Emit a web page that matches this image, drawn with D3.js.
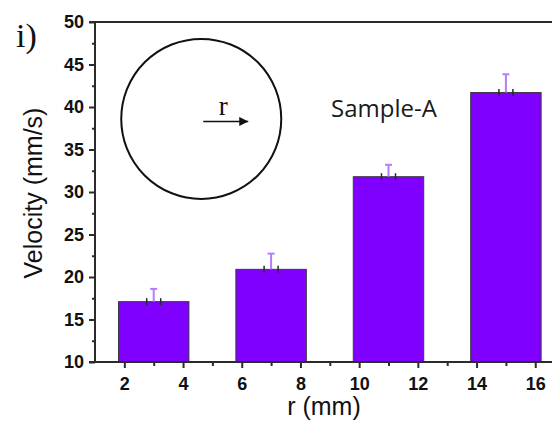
<!DOCTYPE html>
<html>
<head>
<meta charset="utf-8">
<script src="https://cdn.jsdelivr.net/npm/d3@7"></script>
<style>
  html, body { margin: 0; padding: 0; background: #fff; }
  svg { display: block; }
</style>
</head>
<body>
<svg id="chart" width="552" height="424"></svg>
<script>
// ---- data ----
const categories = [3, 7, 11, 15];            // bar centres, r (mm)
const velocities = [17.1, 20.9, 31.8, 41.7];   // mm/s
const errors     = [1.5, 1.85, 1.4, 2.15];     // mm/s (upper error)
const yTicks     = [10, 15, 20, 25, 30, 35, 40, 45, 50];
const xTicks     = [2, 4, 6, 8, 10, 12, 14, 16];
const panelLabel = "i)";
const sampleLabel = "Sample-A";
const xTitle = "r (mm)";
const yTitle = "Velocity (mm/s)";

const svg = d3.select("#chart");
const axisColor = "#2b2b2b";

const x = d3.scaleLinear().domain([1, 17]).range([95, 564.6]);
const y = d3.scaleLinear().domain([10, 50]).range([362, 22]);
const barW = 2.4;

// frame (top line + right side off-canvas)
svg.append("line")
  .attr("x1", 89).attr("x2", x(17)).attr("y1", y(50)).attr("y2", y(50))
  .attr("stroke", axisColor).attr("stroke-width", 2);

// bars
svg.append("g").selectAll("rect").data(categories).join("rect")
  .attr("x", (d) => x(d - barW / 2))
  .attr("width", (d) => x(d + barW / 2) - x(d - barW / 2))
  .attr("y", (d, i) => y(velocities[i]))
  .attr("height", (d, i) => y(10) - y(velocities[i]))
  .attr("fill", "#7f00ff")
  .attr("stroke", "#3a3a3a").attr("stroke-width", 1);

// error bars (upper)
const eg = svg.append("g");
categories.forEach((c, i) => {
  const cx = x(c);
  eg.append("line")
    .attr("x1", cx).attr("x2", cx)
    .attr("y1", y(velocities[i])).attr("y2", y(velocities[i] + errors[i]))
    .attr("stroke", "#b47cff").attr("stroke-width", 2);
  eg.append("line")
    .attr("x1", cx - 3.5).attr("x2", cx + 3.5)
    .attr("y1", y(velocities[i] + errors[i])).attr("y2", y(velocities[i] + errors[i]))
    .attr("stroke", "#b47cff").attr("stroke-width", 2);
  [-7, 7].forEach(o => {
    eg.append("line")
      .attr("x1", cx + o).attr("x2", cx + o)
      .attr("y1", y(velocities[i]) - 3.5).attr("y2", y(velocities[i]) + 3.5)
      .attr("stroke", "#2a2a2a").attr("stroke-width", 1.5);
  });
});

// axes
function styleAxis(g) {
  g.selectAll(".domain").remove();
  g.selectAll("line").attr("stroke", axisColor).attr("stroke-width", 2);
  g.selectAll("text").attr("fill", "#111")
    .attr("font-family", "Liberation Sans, Arial, sans-serif")
    .attr("font-weight", "bold").attr("font-size", "18px");
}

const yAxis = svg.append("g").attr("transform", `translate(${x(1)},0)`)
  .call(d3.axisLeft(y).tickValues(yTicks).tickSize(6).tickPadding(5).tickFormat(d3.format("d")));
styleAxis(yAxis);
const yMinor = svg.append("g").attr("transform", `translate(${x(1)},0)`)
  .call(d3.axisLeft(y).tickValues(d3.range(12.5, 50, 5)).tickSize(3).tickFormat(""));
yMinor.selectAll(".domain").remove();
yMinor.selectAll("line").attr("stroke", axisColor).attr("stroke-width", 2);

const xAxis = svg.append("g").attr("transform", `translate(0,${y(10)})`)
  .call(d3.axisBottom(x).tickValues(xTicks).tickSize(6).tickPadding(9).tickFormat(d3.format("d")));
styleAxis(xAxis);
const xMinor = svg.append("g").attr("transform", `translate(0,${y(10)})`)
  .call(d3.axisBottom(x).tickValues(d3.range(3, 17, 2)).tickSize(4).tickFormat(""));
xMinor.selectAll(".domain").remove();
xMinor.selectAll("line").attr("stroke", axisColor).attr("stroke-width", 2);

// axis lines
svg.append("line").attr("x1", x(1)).attr("x2", x(1)).attr("y1", y(50)).attr("y2", y(10))
  .attr("stroke", axisColor).attr("stroke-width", 2);
svg.append("line").attr("x1", 89).attr("x2", x(17)).attr("y1", y(10)).attr("y2", y(10))
  .attr("stroke", axisColor).attr("stroke-width", 2);

// titles
svg.append("text")
  .attr("transform", `translate(42,${(y(50)+y(10))/2 + 1}) rotate(-90)`)
  .attr("text-anchor", "middle")
  .attr("font-family", "Liberation Sans, Arial, sans-serif")
  .attr("font-size", "25px").attr("fill", "#111")
  .text(yTitle);

svg.append("text")
  .attr("x", 324).attr("y", 415)
  .attr("text-anchor", "middle")
  .attr("font-family", "Liberation Sans, Arial, sans-serif")
  .attr("font-size", "25px").attr("fill", "#111")
  .text(xTitle);

svg.append("text")
  .attr("x", 16).attr("y", 47)
  .attr("font-family", "Liberation Serif, Times New Roman, serif")
  .attr("font-size", "34px").attr("fill", "#111")
  .text(panelLabel);

// inset: circle with radius arrow
const cx0 = x(4.62), cy0 = y(38.6);
svg.append("circle").attr("cx", cx0).attr("cy", cy0).attr("r", 80)
  .attr("fill", "none").attr("stroke", "#111").attr("stroke-width", 2);
svg.append("defs").append("marker")
  .attr("id", "arr").attr("viewBox", "0 0 10 10").attr("refX", 10).attr("refY", 5)
  .attr("markerWidth", 10).attr("markerHeight", 9).attr("markerUnits", "userSpaceOnUse")
  .attr("orient", "auto")
  .append("path").attr("d", "M0,0 L10,5 L0,10 Z").attr("fill", "#111");
svg.append("line")
  .attr("x1", cx0 + 2).attr("x2", cx0 + 47).attr("y1", cy0 + 2.5).attr("y2", cy0 + 2.5)
  .attr("stroke", "#111").attr("stroke-width", 1.5).attr("marker-end", "url(#arr)");
svg.append("text")
  .attr("x", cx0 + 22).attr("y", cy0 - 4)
  .attr("text-anchor", "middle")
  .attr("font-family", "Liberation Serif, Times New Roman, serif")
  .attr("font-size", "27px").attr("fill", "#111")
  .text("r");

svg.append("text")
  .attr("x", 331).attr("y", 117)
  .attr("font-family", "Open Sans, sans-serif")
  .attr("font-size", "24px").attr("fill", "#1a1a1a")
  .text(sampleLabel);
</script>
</body>
</html>
